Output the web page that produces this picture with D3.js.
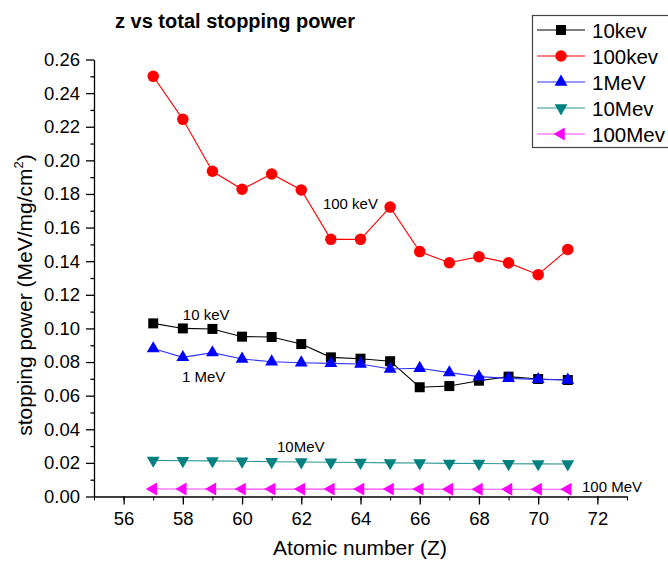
<!DOCTYPE html>
<html>
<head>
<meta charset="utf-8">
<script src="https://cdn.jsdelivr.net/npm/d3@7"></script>
<style>
  body { margin: 0; background: #fff; }
  svg { font-family: "Liberation Sans", Arial, sans-serif; }
</style>
</head>
<body>
<svg id="chart" width="668" height="562"></svg>
<script>
// atomic number Z
const zValues = [57, 58, 59, 60, 61, 62, 63, 64, 65, 66, 67, 68, 69, 70, 71];

// stopping power (MeV/mg/cm2) for each energy
const kev10 = [0.1030, 0.1000, 0.0997, 0.0951, 0.0949, 0.0907, 0.0828, 0.0820, 0.0805, 0.0650, 0.0657, 0.0689, 0.0713, 0.0699, 0.0693];
const kev100 = [0.250, 0.2244, 0.1935, 0.1828, 0.1919, 0.1824, 0.1530, 0.1530, 0.1722, 0.1457, 0.1391, 0.1427, 0.1390, 0.1320, 0.1470];
const mev1 = [0.0880, 0.0828, 0.0856, 0.0818, 0.0802, 0.0796, 0.0792, 0.0788, 0.0759, 0.0763, 0.0737, 0.0713, 0.0703, 0.0697, 0.0693];
const mev10 = [0.0215, 0.0213, 0.0212, 0.0210, 0.0207, 0.0205, 0.0204, 0.0202, 0.0200, 0.0199, 0.0197, 0.0196, 0.0195, 0.0194, 0.0193];
const mev100 = [0.0045, 0.0045, 0.0045, 0.0044, 0.0044, 0.0044, 0.0044, 0.0044, 0.0044, 0.0044, 0.0043, 0.0043, 0.0043, 0.0043, 0.0043];

const xTicks = [56, 58, 60, 62, 64, 66, 68, 70, 72];
const yTicks = [0, 0.02, 0.04, 0.06, 0.08, 0.10, 0.12, 0.14, 0.16, 0.18, 0.20, 0.22, 0.24, 0.26];

const seriesNames = ['10kev', '100kev', '1MeV', '10Mev', '100Mev'];
const seriesValues = [kev10, kev100, mev1, mev10, mev100];

// curve labels written on the plot (left edge / baseline in data units)
const noteTexts = ['10 keV', '100 keV', '1 MeV', '10MeV', '100 MeV'];
const noteZ = [58.0, 62.73, 57.97, 61.18, 71.48];
const noteVal = [0.1050, 0.1710, 0.0681, 0.0265, 0.0027];

const styles = [
  { color: '#000000', line: '#000000', sym: d3.symbolSquare, size: 100, rot: 0 },
  { color: '#ff0000', line: '#ff0000', sym: d3.symbolCircle, size: 104, rot: 0 },
  { color: '#0000ff', line: '#3333ff', sym: d3.symbolTriangle, size: 72, rot: 0 },
  { color: '#008080', line: '#2a9696', sym: d3.symbolTriangle, size: 72, rot: 180 },
  { color: '#ff00ff', line: '#ff44ff', sym: d3.symbolTriangle, size: 72, rot: -90 }
];

const svg = d3.select('#chart');

const x = d3.scaleLinear().domain([55, 73]).range([94, 627]);
const y = d3.scaleLinear().domain([0, 0.26]).range([496.5, 59.5]);

// x axis: minor then major ticks
svg.append('g')
  .attr('transform', `translate(0,${y(0)})`)
  .call(d3.axisBottom(x).tickValues(d3.range(55, 74, 1)).tickSize(4).tickSizeOuter(0).tickFormat(''))
  .call(g => g.select('.domain').remove());
svg.append('g')
  .attr('transform', `translate(0,${y(0)})`)
  .call(d3.axisBottom(x).tickValues(xTicks).tickSize(8).tickSizeOuter(0).tickPadding(7))
  .call(g => g.selectAll('text').attr('font-size', 18.5).attr('fill', '#000').attr('font-family', 'Liberation Sans, Arial'))
  .call(g => g.selectAll('line, path').attr('stroke', '#000').attr('stroke-width', 1.3));

// y axis
svg.append('g')
  .attr('transform', `translate(${x(55)},0)`)
  .call(d3.axisLeft(y).tickValues(d3.range(0.01, 0.26, 0.02)).tickSize(3.5).tickFormat(''))
  .call(g => g.select('.domain').remove())
  .call(g => g.selectAll('line').attr('stroke-width', 1.3));
svg.append('g')
  .attr('transform', `translate(${x(55)},0)`)
  .call(d3.axisLeft(y).tickValues(yTicks).tickSize(8).tickSizeOuter(0).tickPadding(6).tickFormat(d3.format('.2f')))
  .call(g => g.selectAll('text').attr('font-size', 18.5).attr('fill', '#000').attr('font-family', 'Liberation Sans, Arial'))
  .call(g => g.selectAll('line, path').attr('stroke', '#000').attr('stroke-width', 1.3));

// series
const line = d3.line().x((d, i) => x(zValues[i])).y(d => y(d));
seriesValues.forEach((vals, k) => {
  const st = styles[k];
  svg.append('path')
    .attr('d', line(vals))
    .attr('fill', 'none')
    .attr('stroke', st.line)
    .attr('stroke-width', 1.1);
  svg.append('g').selectAll('path')
    .data(vals)
    .join('path')
    .attr('d', d3.symbol().type(st.sym).size(st.size))
    .attr('transform', (d, i) => `translate(${x(zValues[i])},${y(d)}) rotate(${st.rot})`)
    .attr('fill', st.color);
});

// on-plot labels
svg.append('g').selectAll('text')
  .data(noteTexts)
  .join('text')
  .attr('x', (d, i) => x(noteZ[i]))
  .attr('y', (d, i) => y(noteVal[i]))
  .attr('font-size', 15)
  .attr('fill', '#000')
  .text(d => d);

// title
svg.append('text')
  .attr('x', 115).attr('y', 28)
  .attr('font-size', 20).attr('font-weight', 'bold')
  .text('z vs total stopping power');

// axis titles
svg.append('text')
  .attr('x', 360).attr('y', 555)
  .attr('text-anchor', 'middle')
  .attr('font-size', 21)
  .text('Atomic number (Z)');

const yTitle = svg.append('text')
  .attr('transform', 'translate(32,295) rotate(-90)')
  .attr('text-anchor', 'middle')
  .attr('font-size', 21);
yTitle.append('tspan').text('stopping power (MeV/mg/cm');
yTitle.append('tspan').attr('font-size', 13).attr('dy', -9).text('2');
yTitle.append('tspan').attr('dy', 9).text(')');

// legend
const legend = svg.append('g');
legend.append('rect')
  .attr('x', 532.5).attr('y', 15.5)
  .attr('width', 140).attr('height', 132)
  .attr('fill', '#fff').attr('stroke', '#444').attr('stroke-width', 1.2);
seriesNames.forEach((name, k) => {
  const st = styles[k];
  const ry = 30 + k * 26;
  legend.append('line')
    .attr('x1', 537).attr('x2', 585).attr('y1', ry).attr('y2', ry)
    .attr('stroke', st.line).attr('stroke-width', 1.1);
  legend.append('path')
    .attr('d', d3.symbol().type(st.sym).size(st.size)())
    .attr('transform', `translate(561,${ry}) rotate(${st.rot})`)
    .attr('fill', st.color);
  legend.append('text')
    .attr('x', 592).attr('y', ry + 7.5)
    .attr('font-size', 20.5)
    .text(name);
});
</script>
</body>
</html>
